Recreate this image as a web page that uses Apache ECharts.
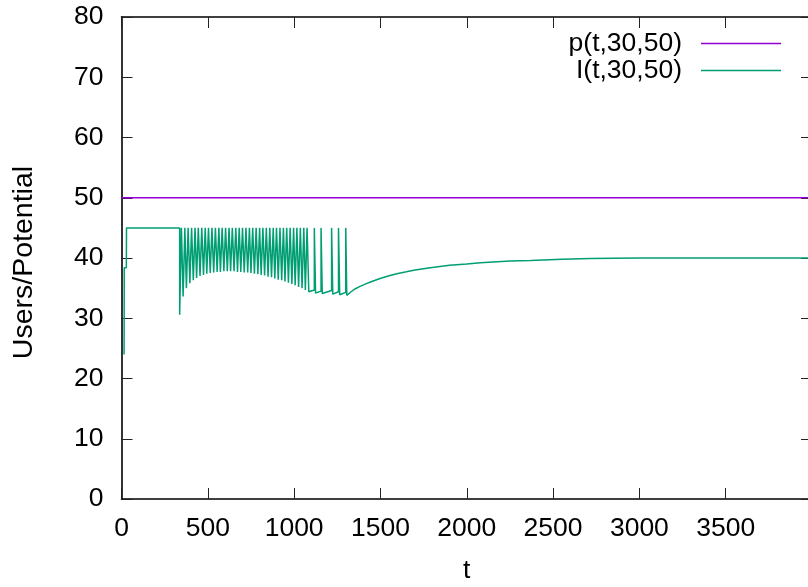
<!DOCTYPE html>
<html><head><meta charset="utf-8">
<script src="https://cdn.jsdelivr.net/npm/echarts@6/dist/echarts.min.js"></script>
<style>html,body{margin:0;padding:0;background:#fff}#c{width:808px;height:587px}</style>
</head><body><div id="c"></div><script>
// ---- data ----
const seriesNames = ['p(t,30,50)', 'I(t,30,50)'];
const pT = [0, 4000];
const pV = [50, 50];
const topV = 45;
const leadT = [15, 16, 28, 29];
const leadV = [24, 38.4, 38.4, 45];
const dropT = [337, 357, 376, 396, 416, 435, 455, 475, 494, 514, 534, 554, 573, 593, 613, 632, 652, 672, 691, 711,
  731, 750, 770, 790, 809, 829, 849, 869, 888, 908, 928, 947, 967, 987, 1006, 1026, 1046, 1065, 1085,
  1124, 1163, 1224, 1264, 1305];
const lowV = [30.6, 33.6, 35.0, 35.8, 36.3, 36.7, 37.0, 37.2, 37.4, 37.5, 37.6, 37.7, 37.7, 37.8, 37.8, 37.8, 37.8, 37.7, 37.7, 37.6,
  37.6, 37.5, 37.4, 37.3, 37.2, 37.1, 36.9, 36.8, 36.6, 36.4, 36.3, 36.1, 35.9, 35.7, 35.5, 35.2, 35.0, 34.7, 34.4,
  34.2, 34.1, 34.0, 33.9, 33.8];
const riseT = [347, 367, 386, 406, 426, 445, 465, 485, 504, 524, 544, 564, 583, 603, 623, 642, 662, 682, 701, 721,
  741, 760, 780, 800, 819, 839, 859, 879, 898, 918, 938, 957, 977, 997, 1016, 1036, 1056, 1075, 1117,
  1156, 1217, 1257, 1299];
const preRiseV = [30.9, 33.8, 35.1, 35.9, 36.4, 36.8, 37.1, 37.3, 37.5, 37.6, 37.7, 37.7, 37.8, 37.8, 37.8, 37.8, 37.8, 37.7, 37.7, 37.6,
  37.6, 37.5, 37.4, 37.3, 37.2, 37.1, 36.9, 36.8, 36.6, 36.4, 36.3, 36.1, 35.9, 35.7, 35.5, 35.2, 35.0, 34.8, 34.7,
  34.5, 34.6, 34.4, 34.3];
const recT = [1330, 1355, 1382, 1415, 1450, 1498, 1545, 1595, 1650, 1700, 1789, 1900, 2000, 2079, 2250, 2369, 2550, 2718, 3000, 3500, 4000];
const recV = [34.4, 34.9, 35.3, 35.7, 36.1, 36.6, 37.0, 37.4, 37.7, 38.0, 38.4, 38.8, 39.0, 39.2, 39.5, 39.6, 39.8, 39.9, 40.0, 40.0, 40.0];
const xMin = 0, xMax = 4000, xStep = 500;
const yMin = 0, yMax = 80, yStep = 10;

// ---- build series ----
const pData = pT.map((t, i) => [t, pV[i]]);
const iData = [];
leadT.forEach((t, i) => iData.push([t, leadV[i]]));
dropT.forEach((t, i) => {
  iData.push([t, topV]);
  iData.push([t, lowV[i]]);
  if (i < riseT.length) {
    iData.push([riseT[i], preRiseV[i]]);
    iData.push([riseT[i], topV]);
  }
});
recT.forEach((t, i) => iData.push([t, recV[i]]));

const FONT = 'Liberation Sans';
const FS = 26.5;
const tickStyle = { show: true, inside: true, length: 11, lineStyle: { color: '#222', width: 1 } };
const lineAx = { show: true, onZero: false, lineStyle: { color: '#000', width: 1.6 } };
const plain = v => String(v);

const chart = echarts.init(document.getElementById('c'), null, { renderer: 'canvas' });
chart.setOption({
  animation: false,
  backgroundColor: '#fff',
  textStyle: { fontFamily: FONT },
  grid: { left: 121.5, right: -4, top: 17, bottom: 88, containLabel: false, outerBoundsMode: 'none' },
  legend: {
    data: seriesNames,
    orient: 'vertical',
    align: 'right',
    right: 27,
    top: 30,
    padding: 0,
    itemGap: 0,
    itemWidth: 80,
    itemHeight: 28,
    icon: 'path://M0,0H80V1.4H0Z',
    textStyle: { fontFamily: FONT, fontSize: FS, color: '#000', padding: [0, 14, 0, 0] }
  },
  xAxis: [
    {
      type: 'value', min: xMin, max: xMax, interval: xStep, position: 'bottom',
      name: 't', nameLocation: 'middle', nameGap: 58,
      nameTextStyle: { fontFamily: FONT, fontSize: FS, color: '#000' },
      axisLine: lineAx, axisTick: tickStyle, splitLine: { show: false },
      axisLabel: { fontFamily: FONT, fontSize: FS, color: '#000', margin: 16, showMaxLabel: false, formatter: plain }
    },
    {
      type: 'value', min: xMin, max: xMax, interval: xStep, position: 'top',
      axisLine: lineAx, axisTick: tickStyle, splitLine: { show: false }, axisLabel: { show: false }
    }
  ],
  yAxis: [
    {
      type: 'value', min: yMin, max: yMax, interval: yStep, position: 'left',
      name: 'Users/Potential', nameLocation: 'middle', nameRotate: 90, nameGap: 83,
      nameTextStyle: { fontFamily: FONT, fontSize: 28.5, color: '#000', padding: [0, 9, 0, 0] },
      axisLine: lineAx, axisTick: tickStyle, splitLine: { show: false },
      axisLabel: { fontFamily: FONT, fontSize: FS, color: '#000', margin: 18, formatter: plain }
    },
    {
      type: 'value', min: yMin, max: yMax, interval: yStep, position: 'right',
      axisLine: lineAx, axisTick: tickStyle, splitLine: { show: false }, axisLabel: { show: false }
    }
  ],
  series: [
    {
      name: seriesNames[0], type: 'line', data: pData, symbol: 'none',
      lineStyle: { color: '#9400d3', width: 1.3 }, itemStyle: { color: '#9400d3' }
    },
    {
      name: seriesNames[1], type: 'line', data: iData, symbol: 'none',
      lineStyle: { color: '#009e73', width: 1.5 }, itemStyle: { color: '#009e73' }
    }
  ]
});
</script></body></html>
